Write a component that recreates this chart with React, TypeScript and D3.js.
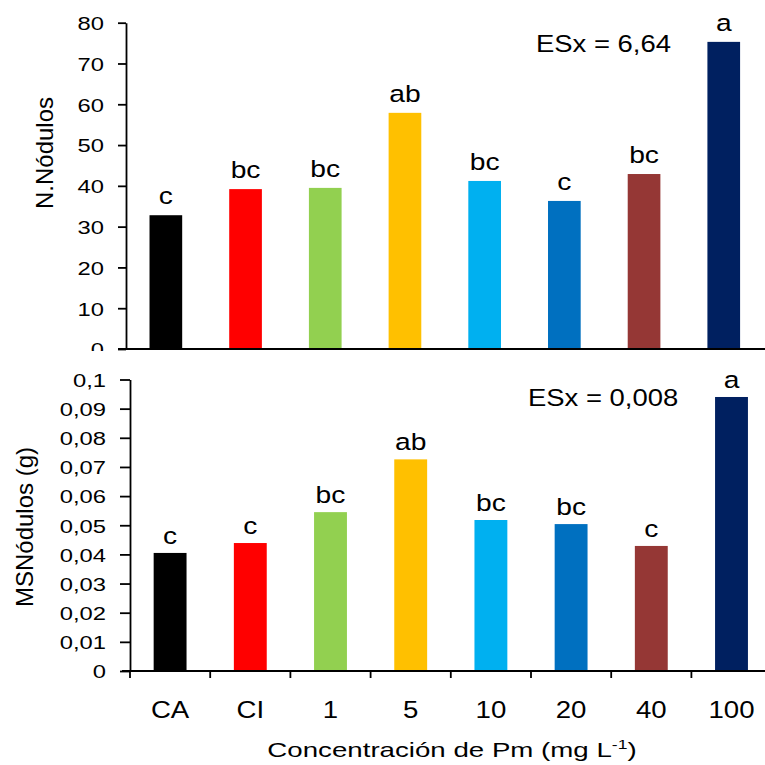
import { useEffect, useRef } from 'react';
import * as d3 from 'd3';

// treatments (x axis)
const categories = ['CA', 'CI', '1', '5', '10', '20', '40', '100'];
const barColors = ['#000000', '#FF0000', '#92D050', '#FFC000', '#00B0F0', '#0070C0', '#953735', '#002060'];

// top panel: number of nodules
const nodulos = [32.8, 39.2, 39.5, 57.9, 41.2, 36.3, 42.9, 75.3];
const nodulosLetters = ['c', 'bc', 'bc', 'ab', 'bc', 'c', 'bc', 'a'];
const nodulosTicks = [0, 10, 20, 30, 40, 50, 60, 70, 80];

// bottom panel: nodule dry mass (g)
const msNodulos = [0.0405, 0.0439, 0.0545, 0.0726, 0.0518, 0.0504, 0.0429, 0.094];
const msLetters = ['c', 'c', 'bc', 'ab', 'bc', 'bc', 'c', 'a'];
const msTicks = [0, 0.01, 0.02, 0.03, 0.04, 0.05, 0.06, 0.07, 0.08, 0.09, 0.1];

const FONT = '"Liberation Sans", Arial, sans-serif';

// decimal comma like the original
const fmt = d3.formatLocale({ decimal: ',', thousands: '.', grouping: [3], currency: ['', ''] }).format('~g');

type PanelProps = {
	values: number[];
	letters: string[];
	ticks: number[];
	xRange: [number, number];
	yRange: [number, number];
	tickSize: number;
	labelGap: number;
	letterGap: number;
	esx: string;
	esxPos: [number, number];
	title: string;
	titlePos: [number, number];
	bottomAxis: boolean;
	clipId?: string;
};

function Panel(props: PanelProps) {
	const gy = useRef<SVGGElement>(null);
	const { values, letters, ticks, xRange, yRange, tickSize, labelGap, letterGap } = props;

	const x = d3.scaleBand<string>()
		.domain(categories)
		.range(xRange)
		.paddingInner(0.59)
		.paddingOuter(0.295);

	const y = d3.scaleLinear()
		.domain([0, ticks[ticks.length - 1]])
		.range(yRange);

	useEffect(() => {
		const g = d3.select(gy.current!);
		g.call(d3.axisLeft(y).tickValues(ticks).tickFormat((d) => fmt(d as number)).tickSize(tickSize).tickSizeOuter(0));
		g.attr('font-size', 19).attr('font-family', FONT);
		g.select('.domain').attr('stroke', '#000').attr('stroke-width', 1.8);
		g.selectAll('.tick line').attr('stroke', '#000').attr('stroke-width', 1.8);
		g.selectAll('.tick text')
			.attr('x', 0)
			.attr('dy', '0.36em')
			.attr('fill', '#000')
			.attr('transform', `translate(${-labelGap},0) scale(1.25,1)`);
	}, [y, ticks, tickSize, labelGap]);

	const half = (x.step() - x.bandwidth()) / 2;
	const boundaries = categories.map((c) => x(c)! - half);
	const y0 = y(0);

	return (
		<g>
			{values.map((v, i) => (
				<rect key={categories[i]} x={x(categories[i])} y={y(v)} width={x.bandwidth()} height={y0 - y(v)} fill={barColors[i]} />
			))}
			{values.map((v, i) => (
				<text
					key={'l' + i}
					transform={`translate(${x(categories[i])! + x.bandwidth() / 2},${y(v) - letterGap}) scale(1.2,1)`}
					textAnchor="middle"
					fontSize={23.5}
					fontFamily={FONT}
					fill="#000"
				>{letters[i]}</text>
			))}

			<line x1={xRange[0] - 8} x2={765} y1={y0} y2={y0} stroke="#000" strokeWidth={1.8} />
			{props.bottomAxis && boundaries.map((b, i) => (
				<line key={'t' + i} x1={b} x2={b} y1={y0} y2={y0 + 7} stroke="#000" strokeWidth={1.8} />
			))}

			<g ref={gy} transform={`translate(${xRange[0]},0)`} clipPath={props.clipId ? `url(#${props.clipId})` : undefined} />

			<text
				transform={`translate(${props.esxPos[0]},${props.esxPos[1]}) scale(1.12,1)`}
				fontSize={24.5}
				fontFamily={FONT}
				fill="#000"
			>{props.esx}</text>

			<text
				transform={`translate(${props.titlePos[0]},${props.titlePos[1]}) rotate(-90)`}
				textAnchor="middle"
				fontSize={24}
				fontFamily={FONT}
				fill="#000"
			>{props.title}</text>

			{props.bottomAxis && categories.map((c) => (
				<text
					key={'c' + c}
					transform={`translate(${x(c)! + x.bandwidth() / 2},718) scale(1.15,1)`}
					textAnchor="middle"
					fontSize={24}
					fontFamily={FONT}
					fill="#000"
				>{c}</text>
			))}
		</g>
	);
}

export default function App() {
	return (
		<svg
			width={765}
			height={765}
			viewBox="0 0 765 765"
			style={{ position: 'absolute', left: 0, top: 0, background: '#fff' }}
		>
			<defs>
				<clipPath id="topClip">
					<rect x={-200} y={0} width={400} height={351} />
				</clipPath>
			</defs>
			<rect width={765} height={765} fill="#fff" />

			<Panel
				values={nodulos}
				letters={nodulosLetters}
				ticks={nodulosTicks}
				xRange={[126, 763.6]}
				yRange={[349, 22.7]}
				tickSize={8}
				labelGap={22}
				letterGap={11}
				esx="ESx = 6,64"
				esxPos={[536, 52]}
				title="N.Nódulos"
				titlePos={[53, 153]}
				bottomAxis={false}
				clipId="topClip"
			/>

			<Panel
				values={msNodulos}
				letters={msLetters}
				ticks={msTicks}
				xRange={[130, 771.6]}
				yRange={[671, 379.5]}
				tickSize={10}
				labelGap={24}
				letterGap={9}
				esx="ESx = 0,008"
				esxPos={[528, 406]}
				title="MSNódulos (g)"
				titlePos={[33, 527]}
				bottomAxis={true}
			/>

			<text
				transform="translate(452,757) scale(1.35,1)"
				textAnchor="middle"
				fontSize={20.5}
				fontFamily={FONT}
				fill="#000"
			>
				Concentración de Pm (mg L<tspan fontSize={13} dy={-8}>-1</tspan><tspan dy={8}>)</tspan>
			</text>
		</svg>
	);
}
